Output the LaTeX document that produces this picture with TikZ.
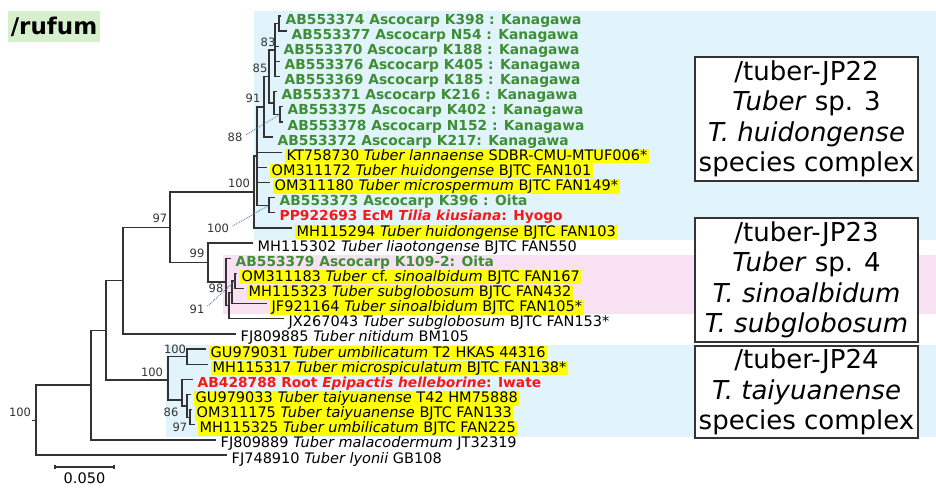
\documentclass[tikz,border=0pt]{standalone}
\usepackage{fontspec}
\setmainfont{DejaVu Sans}
\definecolor{bandblue}{HTML}{E1F3FB}
\definecolor{bandpink}{HTML}{F7E1F3}
\definecolor{rufgreen}{HTML}{D6F0CE}
\definecolor{hlyellow}{HTML}{FFFF00}
\definecolor{ascgreen}{HTML}{3E8E35}
\definecolor{ecmred}{HTML}{F51A1A}
\definecolor{leadblue}{HTML}{3C85B5}
\definecolor{treegray}{HTML}{333333}
\newcommand\leaffont{\fontsize{14.5}{16}\selectfont}
\newcommand\leaffontb{\fontsize{13.8}{16}\selectfont\bfseries}
\newcommand\bsfont{\fontsize{11.5}{13}\selectfont}
\newcommand\boxfont{\fontsize{26}{30.5}\selectfont}

\begin{document}
\begin{tikzpicture}[
  x=1pt, y=-1pt,
  branch/.style={draw=treegray, line width=1.3pt},
  leaf/.style={anchor=west, xshift=3pt, yshift=-3.75pt, inner xsep=1.5pt,
    inner ysep=1pt, text height=10.5pt, text depth=2pt, font=\leaffont, text=black},
  hl/.style={leaf, fill=hlyellow},
  asco/.style={leaf, font=\leaffontb, text=ascgreen},
  ecm/.style={leaf, font=\leaffontb, text=ecmred},
  boot/.style={font=\bsfont, text=treegray, inner sep=0pt},
  lead/.style={draw=leadblue, line width=0.9pt, densely dotted},
  cladebox/.style={draw=treegray, line width=1.3pt, fill=white,
    minimum width=223pt, align=center, font=\boxfont, inner sep=0pt},
]
\useasboundingbox (0,0) rectangle (936,488);

% ============================================================
% Background bands
% ============================================================
\fill[bandblue] (254,11) rectangle (936,240);
\fill[bandpink] (223,255) rectangle (936,314);
\fill[bandblue] (166,345) rectangle (936,437);

% Clade name
\node[fill=rufgreen, font=\fontsize{23}{26}\selectfont\bfseries,
      minimum width=92pt, minimum height=31pt, inner sep=0pt] (rufum) at (54,26.5) {/rufum};

% ============================================================
% Leaf tips
% ============================================================
\coordinate (t1) at (281,16.0);
\coordinate (t2) at (287,31.1);
\coordinate (t3) at (279,46.3);
\coordinate (t4) at (280,61.4);
\coordinate (t5) at (280,76.6);
\coordinate (t6) at (277,91.7);
\coordinate (t7) at (283,106.8);
\coordinate (t8) at (283,122.0);
\coordinate (t9) at (273,137.1);
\coordinate (t10) at (282,152.3);
\coordinate (t11) at (267,167.4);
\coordinate (t12) at (270,182.5);
\coordinate (t13) at (275,197.7);
\coordinate (t14) at (275,212.8);
\coordinate (t15) at (292,228.0);
\coordinate (t16) at (253,243.1);
\coordinate (t17) at (231,258.2);
\coordinate (t18) at (237,273.4);
\coordinate (t19) at (244,288.5);
\coordinate (t20) at (267,303.7);
\coordinate (t21) at (284,318.8);
\coordinate (t22) at (236,333.9);
\coordinate (t23) at (206,349.1);
\coordinate (t24) at (208,364.2);
\coordinate (t25) at (193,379.4);
\coordinate (t26) at (191,394.5);
\coordinate (t27) at (192,409.6);
\coordinate (t28) at (195,424.8);
\coordinate (t29) at (216,439.9);
\coordinate (t30) at (227,455.1);

% ============================================================
% Leaf labels
% ============================================================
\node[asco] (l1) at (t1) {AB553374 Ascocarp K398 : Kanagawa};
\node[asco] (l2) at (t2) {AB553377 Ascocarp N54 : Kanagawa};
\node[asco] (l3) at (t3) {AB553370 Ascocarp K188 : Kanagawa};
\node[asco] (l4) at (t4) {AB553376 Ascocarp K405 : Kanagawa};
\node[asco] (l5) at (t5) {AB553369 Ascocarp K185 : Kanagawa};
\node[asco] (l6) at (t6) {AB553371 Ascocarp K216 : Kanagawa};
\node[asco] (l7) at (t7) {AB553375 Ascocarp K402 : Kanagawa};
\node[asco] (l8) at (t8) {AB553378 Ascocarp N152 : Kanagawa};
\node[asco] (l9) at (t9) {AB553372 Ascocarp K217: Kanagawa};
\node[hl] (l10) at (t10) {KT758730 \textit{Tuber lannaense} SDBR-CMU-MTUF006*};
\node[hl] (l11) at (t11) {OM311172 \textit{Tuber huidongense} BJTC FAN101};
\node[hl] (l12) at (t12) {OM311180 \textit{Tuber microspermum} BJTC FAN149*};
\node[asco] (l13) at (t13) {AB553373 Ascocarp K396 : Oita};
\node[ecm] (l14) at (t14) {PP922693 EcM \textit{Tilia kiusiana}: Hyogo};
\node[hl] (l15) at (t15) {MH115294 \textit{Tuber huidongense} BJTC FAN103};
\node[leaf] (l16) at (t16) {MH115302 \textit{Tuber liaotongense} BJTC FAN550};
\node[asco] (l17) at (t17) {AB553379 Ascocarp K109-2: Oita};
\node[hl] (l18) at (t18) {OM311183 \textit{Tuber} cf. \textit{sinoalbidum} BJTC FAN167};
\node[hl] (l19) at (t19) {MH115323 \textit{Tuber subglobosum} BJTC FAN432};
\node[hl] (l20) at (t20) {JF921164 \textit{Tuber sinoalbidum} BJTC FAN105*};
\node[leaf] (l21) at (t21) {JX267043 \textit{Tuber subglobosum} BJTC FAN153*};
\node[leaf] (l22) at (t22) {FJ809885 \textit{Tuber nitidum} BM105};
\node[hl] (l23) at (t23) {GU979031 \textit{Tuber umbilicatum} T2 HKAS 44316};
\node[hl] (l24) at (t24) {MH115317 \textit{Tuber microspiculatum} BJTC FAN138*};
\node[ecm] (l25) at (t25) {AB428788 Root \textit{Epipactis helleborine}: Iwate};
\node[hl] (l26) at (t26) {GU979033 \textit{Tuber taiyuanense} T42 HM75888};
\node[hl] (l27) at (t27) {OM311175 \textit{Tuber taiyuanense} BJTC FAN133};
\node[hl] (l28) at (t28) {MH115325 \textit{Tuber umbilicatum} BJTC FAN225};
\node[leaf] (l29) at (t29) {FJ809889 \textit{Tuber malacodermum} JT32319};
\node[leaf] (l30) at (t30) {FJ748910 \textit{Tuber lyonii} GB108};

% ============================================================
% Internal nodes
% ============================================================
\coordinate (n12) at (279,23.6);
\coordinate (n83) at (275,50.1);
\coordinate (n78) at (280,114.4);
\coordinate (nb) at (274,103.0);
\coordinate (n85) at (269,76.6);
\coordinate (n91) at (264,106.9);
\coordinate (n1314) at (269,205.3);
\coordinate (nsub) at (257,156.1);
\coordinate (nJP22) at (254,192.0);
\coordinate (n91b) at (235,281.0);
\coordinate (nX) at (232,292.3);
\coordinate (n98) at (229,305.6);
\coordinate (n23) at (226,281.9);
\coordinate (n99) at (208,262.5);
\coordinate (n97) at (170,227.3);
\coordinate (nL) at (123,280.6);
\coordinate (n100c) at (187,356.6);
\coordinate (n97c) at (190,417.2);
\coordinate (n86) at (187,405.9);
\coordinate (na) at (182,400.0);
\coordinate (nJP24) at (168,380.0);
\coordinate (n106) at (106,330.3);
\coordinate (n91c) at (91,385.0);
\coordinate (root) at (36,420.5);
\coordinate (rootstub) at (32,420.5);

% ============================================================
% Branches
% ============================================================
\draw[branch] (n12) |- (t1) (n12) |- (t2);
\draw[branch] (n83) |- (n12) (n83) |- (t3) (n83) |- (t4) (n83) |- (t5);
\draw[branch] (n78) |- (t7) (n78) |- (t8);
\draw[branch] (nb) |- (t6) (nb) |- (n78);
\draw[branch] (n85) |- (n83) (n85) |- (nb);
\draw[branch] (n91) |- (n85) (n91) |- (t9);
\draw[branch] (n1314) |- (t13) (n1314) |- (t14);
\draw[branch] (nsub) |- (n91) (nsub) |- (t10) (nsub) |- (t11)
  (nsub) |- (t12) (nsub) |- (n1314);
\draw[branch] (nJP22) |- (nsub) (nJP22) |- (t15);
\draw[branch] (n91b) |- (t18) (n91b) |- (t19);
\draw[branch] (nX) |- (n91b) (nX) |- (t20);
\draw[branch] (n98) |- (nX) (n98) |- (t21);
\draw[branch] (n23) |- (t17) (n23) |- (n98);
\draw[branch] (n99) |- (t16) (n99) |- (n23);
\draw[branch] (n97) |- (nJP22) (n97) |- (n99);
\draw[branch] (nL) |- (n97) (nL) |- (t22);
\draw[branch] (n100c) |- (t23) (n100c) |- (t24);
\draw[branch] (n97c) |- (t27) (n97c) |- (t28);
\draw[branch] (n86) |- (t26) (n86) |- (n97c);
\draw[branch] (na) |- (t25) (na) |- (n86);
\draw[branch] (nJP24) |- (n100c) (nJP24) |- (na);
\draw[branch] (n106) |- (nL) (n106) |- (nJP24);
\draw[branch] (n91c) |- (n106) (n91c) |- (t29);
\draw[branch] (root) |- (n91c) (root) |- (t30);
\draw[branch] (rootstub) -- (root);

% ============================================================
% Bootstrap values
% ============================================================
\node[boot] (bs83) at (268,42) {83};
\node[boot] (bs85) at (260,68) {85};
\node[boot] (bs91) at (253,98) {91};
\node[boot] (bs88) at (235,137) {88};
\node[boot] (bs100a) at (239,183) {100};
\node[boot] (bs100b) at (218,228) {100};
\node[boot] (bs97) at (160,218) {97};
\node[boot] (bs99) at (197,253) {99};
\node[boot] (bs98) at (216,288) {98};
\node[boot] (bs91b) at (197,309) {91};
\node[boot] (bs100c) at (175,349) {100};
\node[boot] (bs100d) at (152,372) {100};
\node[boot] (bs86) at (171,412) {86};
\node[boot] (bs97b) at (180,427) {97};
\node[boot] (bs100e) at (20,412) {100};

% leader lines
\draw[lead, shorten <=4pt] (bs88.east) -- (n78);
\draw[lead, shorten <=4pt] (bs100b.east) -- (n1314);
\draw[lead, shorten <=4pt] (bs91b.east) -- (n91b);

% ============================================================
% Scale bar
% ============================================================
\coordinate (sb1) at (55,467);
\coordinate (sb2) at (114,467);
\draw[branch] (sb1) -- (sb2);
\draw[branch] ([yshift=2.5pt]sb1) -- ([yshift=-2pt]sb1);
\draw[branch] ([yshift=2.5pt]sb2) -- ([yshift=-2pt]sb2);
\node[font=\leaffont, anchor=south, inner sep=0pt] (sblabel) at (84.5,483.5) {0.050};

% ============================================================
% Clade boxes
% ============================================================
\node[cladebox, minimum height=124pt] (jp22) at (806.5,119)
  {/tuber-JP22\\\textit{Tuber} sp. 3\\\textit{T. huidongense}\\species complex};
\node[cladebox, minimum height=124pt] (jp23) at (806.5,280)
  {/tuber-JP23\\\textit{Tuber} sp. 4\\\textit{T. sinoalbidum}\\\textit{T. subglobosum}};
\node[cladebox, minimum height=92pt] (jp24) at (806.5,392)
  {/tuber-JP24\\\textit{T. taiyuanense}\\species complex};

\end{tikzpicture}
\end{document}
